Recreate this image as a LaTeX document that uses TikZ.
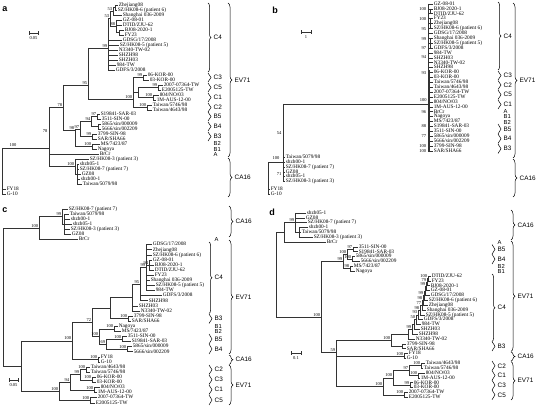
\documentclass[tikz,border=0pt]{standalone}
\usepackage{fontspec}
\setmainfont{Liberation Serif}
\newfontfamily\grpfam{Liberation Sans}
\usetikzlibrary{decorations.pathreplacing}

\newcommand{\lffont}{\fontsize{5.3}{5.3}\selectfont}
\newcommand{\btfont}{\fontsize{4.5}{4.5}\selectfont}
\newcommand{\grpfont}{\grpfam\fontsize{6.4}{6.4}\selectfont}
\newcommand{\subfont}{\grpfam\fontsize{5.8}{5.8}\selectfont}
\newcommand{\plfont}{\grpfam\bfseries\fontsize{9}{9}\selectfont}

\tikzset{
  br/.style={line width=0.6pt, draw=black!80},
  lf/.style={anchor=west, inner sep=0.5pt, font=\lffont, text height=3.6pt, text depth=1pt},
  bt/.style={anchor=south east, inner sep=0.3pt, xshift=-0.4pt, yshift=0.4pt, font=\btfont},
  btc/.style={anchor=center, inner sep=0pt, font=\btfont},
  grp/.style={anchor=west, inner sep=0pt, font=\grpfont},
  sgrp/.style={anchor=west, inner sep=0pt, font=\subfont},
  pl/.style={anchor=center, inner sep=0pt, font=\plfont},
  brc/.style={decorate, decoration={brace, amplitude=3pt}, line width=0.5pt},
  bigbrc/.style={decorate, decoration={brace, amplitude=4pt}, line width=0.5pt},
}

% leaf: parent x, label x, y, name
\newcommand{\leaf}[4]{\draw[br] (#1,#3) -- (#2,#3) node[lf] {#4};}
% clade: x, top y, bottom y
\newcommand{\clade}[3]{\draw[br] (#1,#2) -- (#1,#3);}
% branch: from x, to x, y
\newcommand{\hbr}[3]{\draw[br] (#1,#3) -- (#2,#3);}
% bootstrap at node
\newcommand{\boot}[3]{\node[bt] at (#1,#2) {#3};}
% group braces
\newcommand{\grpb}[4]{\draw[brc] (#1,#2) -- (#1,#3);
  \node[grp] at ({#1+5.5},{(#2+#3)/2}) {#4};}
\newcommand{\grpB}[4]{\draw[bigbrc] (#1,#2) -- (#1,#3);
  \node[grp] at ({#1+6.5},{(#2+#3)/2}) {#4};}
% scale bar
\newcommand{\scalebar}[4]{\draw[br] (#1,#3) -- (#2,#3);
  \draw[br] (#1,{#3-1.7}) -- (#1,{#3+1.7});
  \draw[br] (#2,{#3-1.7}) -- (#2,{#3+1.7});
  \node[btc] at ({(#1+#2)/2},{#3+5.5}) {#4};}

\begin{document}
\begin{tikzpicture}[x=1pt, y=-1pt]
\useasboundingbox (0,0) rectangle (536,406);

% ================= panel a =================
\node[pl] at (5,9) {a};
\scalebar{29}{38}{33}{0.05}
% C4
\clade{115}{5}{10}
\leaf{115}{118}{5}{Zhejiang08}
\leaf{115}{117}{10}{SZ/HK08-6 (patient 6)}
\clade{113}{7.5}{15} \hbr{113}{115}{7.5}
\leaf{113}{122}{15}{Shanghai 036-2009}
\clade{119}{30}{35}
\leaf{119}{124}{30}{BJ08-2020-1}
\leaf{119}{124}{35}{FY23}
\clade{116}{20}{32.5} \hbr{116}{119}{32.5}
\leaf{116}{122}{20}{GZ-08-01}
\leaf{116}{122}{25}{DTID/ZJU-62}
\clade{110}{11.25}{26.25} \hbr{110}{113}{11.25} \hbr{110}{116}{26.25}
\boot{113}{11.25}{53} \boot{116}{26.25}{88}
\clade{108}{18.75}{70} \hbr{108}{110}{18.75} \boot{110}{18.75}{53}
\leaf{108}{122}{40}{GDSG/17/2008}
\leaf{108}{119}{45}{SZ/HK08-5 (patient 5)}
\leaf{108}{118}{50}{N3340-TW-02}
\leaf{108}{118}{55}{SHZH98}
\leaf{108}{118}{60}{SHZH03}
\leaf{108}{116}{65}{984-TW}
\leaf{108}{115}{70}{GDFS/3/2008}
% C1, C2, C3, C5
\clade{143}{75}{80}
\leaf{143}{147}{75}{06-KOR-00}
\leaf{143}{149}{80}{03-KOR-00}
\clade{158}{85}{90}
\leaf{158}{163}{85}{2007-07364-TW}
\leaf{158}{161}{90}{E2005125-TW}
\clade{153}{95}{100}
\leaf{153}{159}{95}{804/NO/03}
\leaf{153}{156}{100}{1M-AUS-12-00}
\clade{138}{87.5}{97.5} \hbr{138}{158}{87.5} \hbr{138}{153}{97.5}
\clade{147}{105}{110}
\leaf{147}{152}{105}{Taiwan/5746/98}
\leaf{147}{152}{110}{Taiwan/4643/98}
\clade{133}{77.5}{107.5} \hbr{133}{143}{77.5} \hbr{133}{138}{92.5} \hbr{133}{147}{107.5}
\boot{143}{77.5}{99} \boot{158}{87.5}{99} \boot{153}{97.5}{100} \boot{147}{107.5}{100}
\clade{88}{48}{99} \hbr{88}{108}{48} \hbr{88}{133}{99}
\boot{108}{48}{99} \boot{133}{99}{100}
% B
\clade{97}{114}{119}
\leaf{97}{100}{114}{S19841-SAR-03}
\leaf{97}{101}{119}{3511-SIN-00}
\clade{98}{124}{129}
\leaf{98}{101}{124}{5865/sin/000009}
\leaf{98}{101}{129}{5666/sin/002209}
\clade{91}{116.5}{126.5} \hbr{91}{97}{116.5} \hbr{91}{98}{126.5} \boot{97}{116.5}{97}
\clade{92}{134}{139}
\leaf{92}{97}{134}{3799-SIN-98}
\leaf{92}{97}{139}{SAR/SHA66}
\clade{80}{121.5}{136.5} \hbr{80}{91}{121.5} \hbr{80}{92}{136.5}
\boot{91}{121.5}{94} \boot{92}{136.5}{99}
\clade{92}{144}{149}
\leaf{92}{100}{144}{MS/7423/87}
\leaf{92}{97}{149}{Nagoya}
\clade{75}{129}{146.5} \hbr{75}{80}{129} \hbr{75}{92}{146.5}
\boot{80}{129}{97} \boot{92}{146.5}{100}
\clade{63}{85}{130} \hbr{63}{88}{85} \hbr{63}{75}{130}
\boot{88}{85}{95} \boot{75}{130}{98}
\clade{49}{107}{166.5} \hbr{49}{63}{107} \boot{63}{107}{78}
\node[btc] at (45,131) {78};
\leaf{49}{99}{154}{BrCr}
% CA16
\clade{77}{164}{184}
\leaf{77}{79}{164}{shzh05-1}
\leaf{77}{79}{169}{SZ/HK08-7 (patient 7)}
\leaf{77}{81}{174}{GZ08}
\leaf{77}{80}{179}{shzh00-1}
\leaf{77}{82}{184}{Taiwan/5079/98}
\clade{75}{159}{174} \hbr{75}{77}{174}
\leaf{75}{89}{159}{SZ/HK08-3 (patient 3)}
\hbr{49}{75}{166.5} \boot{75}{166.5}{100}
% root
\clade{2}{148}{194} \hbr{2}{49}{148}
\node[btc] at (13,145.5) {100};
\leaf{2}{6}{189}{FY18}
\leaf{2}{6}{194}{G-10}
% groups
\grpb{208}{3}{72}{C4}
\grpb{208}{73}{82}{C3}
\grpb{208}{83}{92}{C5}
\grpb{208}{93}{102}{C1}
\grpb{208}{103}{112}{C2}
\grpb{208}{112}{121}{B5}
\grpb{208}{122}{131}{B4}
\grpb{208}{132}{141}{B3}
\node[sgrp] at (213.5,143.6) {B2};
\node[sgrp] at (213.5,149.2) {B1};
\node[sgrp] at (213.5,154.8) {A};
\grpB{228}{3}{157}{EV71}
\grpB{228}{158}{197}{CA16}

% ================= panel b =================
\node[pl] at (275,10) {b};
\scalebar{301}{311}{32}{1}
% root and CA16
\clade{268}{162}{194}
\leaf{268}{270}{189}{FY18}
\leaf{268}{270}{194}{G-10}
\hbr{268}{283}{162} \node[btc] at (276,158.5) {100};
\clade{283}{104}{181}
\hbr{283}{428}{104} \node[bt, anchor=east] at (427.5,100.5) {100};
\leaf{283}{285}{157}{Taiwan/5079/98}
\leaf{283}{285}{162}{shzh00-1}
\leaf{283}{285}{167}{SZ/HK08-7 (patient 7)}
\leaf{283}{285}{172}{GZ08}
\leaf{283}{285}{176.5}{shzh05-1}
\leaf{283}{285}{181}{SZ/HK08-3 (patient 3)}
\draw[br, line width=1.3pt] (283.2,138) -- (283.2,181);
\node[btc] at (279,133) {54};
\node[btc] at (279,174.5) {71};
% EV71
\clade{428}{4}{151}
\draw[br, line width=1.4pt] (429.3,70) -- (429.3,151);
\leaf{428}{433}{4}{GZ-08-01}
\leaf{428}{433}{8.9}{BJ08-2020-1}
\leaf{428}{433}{13.8}{DTID/ZJU-62}
\leaf{428}{433}{18.7}{FY23}
\leaf{428}{433}{23.6}{Zhejiang08}
\leaf{428}{433}{28.5}{SZ/HK08-6 (patient 6)}
\leaf{428}{433}{33.4}{GDSG/17/2008}
\leaf{428}{433}{38.3}{Shanghai 036-2009}
\leaf{428}{433}{43.2}{SZ/HK08-5 (patient 5)}
\leaf{428}{433}{48.1}{GDFS/3/2008}
\leaf{428}{433}{53}{984-TW}
\leaf{428}{433}{57.9}{SHZH03}
\leaf{428}{433}{62.8}{N3340-TW-02}
\leaf{428}{433}{67.7}{SHZH98}
\leaf{428}{433}{72.6}{06-KOR-00}
\leaf{428}{433}{77.5}{03-KOR-00}
\leaf{428}{433}{82.4}{Taiwan/5746/98}
\leaf{428}{433}{87.3}{Taiwan/4643/98}
\leaf{428}{433}{92.2}{2007-07364-TW}
\leaf{428}{433}{97.1}{E2005125-TW}
\leaf{428}{433}{102}{804/NO/03}
\leaf{428}{433}{106.9}{1M-AUS-12-00}
\leaf{428}{433}{111.8}{BrCr}
\leaf{428}{433}{116.7}{Nagoya}
\leaf{428}{433}{121.6}{MS/7423/87}
\leaf{428}{433}{126.5}{S19841-SAR-03}
\leaf{428}{433}{131.4}{3511-SIN-00}
\leaf{428}{433}{136.3}{5865/sin/000009}
\leaf{428}{433}{141.2}{5666/sin/002209}
\leaf{428}{433}{146.1}{3799-SIN-98}
\leaf{428}{433}{151}{SAR/SHA66}
\clade{430.5}{8.9}{13.8}
\clade{430.5}{18.7}{28.5}
\clade{430.5}{38.3}{48.1}
\foreach \y/\v in {9/100, 19/100, 29/95, 39/99, 48/97, 57/94, 73/93, 112/96, 126/88, 136/77, 146/100, 151.5/100}
  \node[bt, anchor=east] at (427,\y) {\v};
% groups
\grpb{498}{2}{70}{C4}
\grpb{498}{71}{80}{C3}
\grpb{498}{80.5}{89.5}{C2}
\grpb{498}{90}{99.5}{C5}
\grpb{498}{100}{109}{C1}
\node[sgrp] at (503.5,111.2) {A};
\node[sgrp] at (503.5,116.7) {B1};
\node[sgrp] at (503.5,122.2) {B2};
\grpb{498}{124}{134}{B5}
\grpb{498}{134}{143.5}{B4}
\grpb{498}{144}{153.5}{B3}
\grpB{513}{3}{158}{EV71}
\grpB{513}{159}{197}{CA16}

% ================= panel c =================
\node[pl] at (5,210) {c};
\scalebar{9}{18}{380}{0.05}
% CA16 and A
\clade{64}{214.1}{234.5}
\leaf{62}{68}{209}{SZ/HK08-7 (patient 7)}
\leaf{64}{69}{214.1}{Taiwan/5079/98}
\leaf{64}{70}{219.2}{shzh00-1}
\leaf{64}{72}{224.3}{shzh05-1}
\leaf{64}{70}{229.4}{SZ/HK08-3 (patient 3)}
\leaf{64}{71}{234.5}{GZ08}
\clade{62}{209}{224.3} \hbr{62}{64}{224.3}
\clade{39}{216.6}{239.6} \hbr{39}{62}{216.6} \boot{62}{216.6}{99}
\leaf{39}{78}{239.6}{BrCr}
\hbr{3}{39}{228.1} \boot{39}{228.1}{100}
% C4
\clade{149}{260}{270.2} \boot{149}{265.1}{94}
\leaf{149}{152}{260}{GZ-08-01}
\leaf{149}{154}{265.1}{BJ08-2020-1}
\leaf{149}{154}{270.2}{DTID/ZJU-62}
\clade{146}{244.7}{290.6} \hbr{146}{149}{265.1}
\leaf{146}{152}{244.7}{GDSG/17/2008}
\leaf{146}{152}{249.8}{Zhejiang08}
\leaf{146}{152}{254.9}{SZ/HK08-6 (patient 6)}
\leaf{146}{154}{275.3}{FY23}
\leaf{146}{150}{280.4}{Shanghai 036-2009}
\leaf{146}{155}{285.5}{SZ/HK08-5 (patient 5)}
\leaf{146}{155}{290.6}{984-TW}
\clade{140}{267.65}{300.8} \hbr{140}{146}{267.65} \boot{146}{267.65}{99}
\leaf{140}{162}{295.7}{GDFS/3/2008}
\leaf{140}{148}{300.8}{SHZH98}
\clade{132}{284.2}{311} \hbr{132}{140}{284.2} \boot{140}{284.2}{95}
\leaf{132}{138}{305.9}{SHZH03}
\leaf{132}{140}{311}{N3340-TW-02}
% B
\clade{128}{316.1}{321.2}
\leaf{128}{133}{316.1}{3799-SIN-98}
\leaf{128}{131}{321.2}{SAR/SHA66}
\clade{110}{297.6}{318.65} \hbr{110}{132}{297.6} \hbr{110}{128}{318.65}
\boot{128}{318.65}{100}
\clade{114}{326.3}{331.4}
\leaf{114}{118}{326.3}{Nagoya}
\leaf{114}{121}{331.4}{MS/7423/87}
\clade{122}{336.5}{341.6}
\leaf{122}{127}{336.5}{3511-SIN-00}
\leaf{122}{131}{341.6}{S19841-SAR-03}
\clade{127}{346.7}{351.8}
\leaf{127}{132}{346.7}{5865/sin/000009}
\leaf{127}{133}{351.8}{5666/sin/002209}
\clade{106}{339.05}{349.25} \hbr{106}{122}{339.05} \hbr{106}{127}{349.25}
\boot{122}{339.05}{100} \boot{127}{349.25}{100}
\clade{99}{328.85}{344.15} \hbr{99}{114}{328.85} \hbr{99}{106}{344.15}
\boot{114}{328.85}{100} \boot{106}{344.15}{69}
\clade{92}{308.1}{336.5} \hbr{92}{110}{308.1} \hbr{92}{99}{336.5}
\boot{99}{336.5}{100}
\clade{98}{356.9}{362}
\leaf{98}{100}{356.9}{FY18}
\leaf{98}{100}{362}{G-10}
\clade{72}{322.3}{359.45} \hbr{72}{92}{322.3} \hbr{72}{98}{359.45}
\boot{92}{322.3}{72} \boot{98}{359.45}{100}
% C
\clade{86}{367.1}{372.2}
\leaf{86}{90}{367.1}{Taiwan/4643/98}
\leaf{86}{90}{372.2}{Taiwan/5746/98}
\clade{92}{377.3}{382.4}
\leaf{92}{96}{377.3}{06-KOR-00}
\leaf{92}{96}{382.4}{03-KOR-00}
\clade{80}{369.65}{379.85} \hbr{80}{86}{369.65} \hbr{80}{92}{379.85}
\boot{86}{369.65}{100} \boot{92}{379.85}{100}
\clade{94}{387.5}{392.6}
\leaf{94}{100}{387.5}{804/NO/03}
\leaf{94}{97}{392.6}{1M-AUS-12-00}
\clade{70}{374.75}{390.05} \hbr{70}{80}{374.75} \hbr{70}{94}{390.05}
\boot{80}{374.75}{99} \boot{94}{390.05}{100}
\clade{90}{397.7}{402.8}
\leaf{90}{97}{397.7}{2007-07364-TW}
\leaf{90}{95}{402.8}{E2005125-TW}
\clade{59}{382.4}{400.25} \hbr{59}{70}{382.4} \hbr{59}{90}{400.25}
\boot{70}{382.4}{94} \boot{90}{400.25}{100}
\clade{21}{340.9}{391.3} \hbr{21}{72}{340.9} \hbr{21}{59}{391.3}
\boot{72}{340.9}{100} \boot{59}{391.3}{100}
% root
\clade{3}{228.1}{366.1} \hbr{3}{21}{366.1}
% groups
\grpB{229}{206}{237}{CA16}
\node[sgrp] at (214.5,239.6) {A};
\grpb{209}{242}{313.5}{C4}
\grpb{209}{314}{323.5}{B3}
\node[sgrp] at (214.5,326.1) {B1};
\node[sgrp] at (214.5,331.6) {B2};
\grpb{209}{334}{344}{B5}
\grpb{209}{344}{354}{B4}
\grpB{229}{240}{354}{EV71}
\grpB{229}{355}{364.5}{CA16}
\grpb{209}{365}{374.5}{C2}
\grpb{209}{375}{384.5}{C3}
\grpb{209}{385}{394.5}{C1}
\grpb{209}{395}{405}{C5}
\grpB{229}{365}{405}{EV71}

% ================= panel d =================
\node[pl] at (272,212) {d};
\scalebar{291}{301}{353}{0.1}
% CA16 and A
\clade{299}{227.55}{237.25}
\leaf{299}{308}{227.55}{shzh00-1}
\leaf{299}{301}{232.4}{Taiwan/5079/98}
\leaf{299}{313}{237.25}{SZ/HK08-3 (patient 3)}
\clade{295}{213}{232.4} \hbr{295}{299}{232.4}
\leaf{295}{306}{213}{shzh05-1}
\leaf{295}{305}{217.85}{GZ08}
\leaf{295}{307}{222.7}{SZ/HK08-7 (patient 7)}
\clade{284}{222.7}{242.1} \hbr{284}{295}{222.7} \boot{295}{222.7}{99}
\leaf{284}{326}{242.1}{BrCr}
% B
\clade{353}{246.95}{251.8}
\leaf{353}{358}{246.95}{3511-SIN-00}
\leaf{353}{358}{251.8}{S19841-SAR-03}
\clade{352}{256.65}{261.5}
\leaf{352}{355}{256.65}{5865/sin/000009}
\leaf{352}{360}{261.5}{5666/sin/002209}
\clade{347}{249.4}{259.1} \hbr{347}{353}{249.4} \hbr{347}{352}{259.1}
\boot{353}{249.4}{97} \boot{352}{259.1}{100}
\clade{350}{266.35}{271.2}
\leaf{350}{353}{266.35}{MS/7423/87}
\leaf{350}{355}{271.2}{Nagoya}
\clade{343}{254.2}{268.8} \hbr{343}{347}{254.2} \hbr{343}{350}{268.8}
\boot{347}{254.2}{100} \boot{350}{268.8}{98}
% C4 ladder
\clade{428}{276.05}{280.9}
\leaf{428}{431}{276.05}{DTID/ZJU-62}
\leaf{428}{431}{280.9}{FY23}
\clade{427}{278.5}{285.75} \hbr{427}{428}{278.5}
\leaf{427}{430}{285.75}{BJ08-2020-1}
\clade{426}{282.1}{290.6} \hbr{426}{427}{282.1}
\leaf{426}{430}{290.6}{GZ-08-01}
\clade{425}{286.35}{295.45} \hbr{425}{426}{286.35}
\leaf{425}{430}{295.45}{GDSG/17/2008}
\clade{424}{290.9}{300.3} \hbr{424}{425}{290.9}
\leaf{424}{428}{300.3}{SZ/HK08-6 (patient 6)}
\clade{423}{295.6}{305.15} \hbr{423}{424}{295.6}
\leaf{423}{428}{305.15}{Zhejiang08}
\clade{422}{300.4}{310} \hbr{422}{423}{300.4}
\leaf{422}{426}{310}{Shanghai 036-2009}
\clade{420}{305.2}{314.85} \hbr{420}{422}{305.2}
\leaf{420}{425}{314.85}{SZ/HK08-5 (patient 5)}
\clade{418}{310}{319.7} \hbr{418}{420}{310}
\leaf{418}{423}{319.7}{GDFS/3/2008}
\clade{416}{314.85}{324.55} \hbr{416}{418}{314.85}
\leaf{416}{421}{324.55}{984-TW}
\clade{414}{319.7}{329.4} \hbr{414}{416}{319.7}
\leaf{414}{420}{329.4}{SHZH03}
\clade{412}{324.55}{334.25} \hbr{412}{414}{324.55}
\leaf{412}{418}{334.25}{SHZH98}
\clade{408}{329.4}{339.1} \hbr{408}{412}{329.4}
\leaf{408}{415}{339.1}{N3340-TW-02}
\boot{428}{278.5}{100} \boot{427}{282.1}{79} \boot{426}{286.35}{99}
\boot{424}{295.6}{99} \boot{423}{300.4}{98} \boot{422}{305.2}{77}
\boot{420}{310}{98} \boot{418}{314.85}{93} \boot{416}{319.7}{50}
\boot{412}{329.4}{99}
% B3
\clade{402}{343.95}{348.8}
\leaf{402}{406}{343.95}{3799-SIN-98}
\leaf{402}{406}{348.8}{SAR/SHA66}
\clade{391}{334.25}{346.4} \hbr{391}{408}{334.25} \hbr{391}{402}{346.4}
% FY18 / G-10
\clade{404}{353.65}{358.5}
\leaf{404}{408}{353.65}{FY18}
\leaf{404}{406}{358.5}{G-10}
% C
\clade{421}{363.35}{368.2}
\leaf{421}{425}{363.35}{Taiwan/4643/98}
\leaf{421}{423}{368.2}{Taiwan/5746/98}
\clade{418}{373.05}{377.9}
\leaf{418}{425}{373.05}{804/NO/03}
\leaf{418}{420}{377.9}{1M-AUS-12-00}
\clade{409}{365.8}{375.5} \hbr{409}{421}{365.8} \hbr{409}{418}{375.5}
\boot{421}{365.8}{100} \boot{418}{375.5}{100}
\clade{410}{382.75}{387.6}
\leaf{410}{413}{382.75}{06-KOR-00}
\leaf{410}{413}{387.6}{03-KOR-00}
\clade{393}{370.6}{385.2} \hbr{393}{409}{370.6} \hbr{393}{410}{385.2}
\boot{409}{370.6}{97} \boot{410}{385.2}{99}
\clade{404}{392.45}{397.3}
\leaf{404}{408}{392.45}{2007-07364-TW}
\leaf{404}{408}{397.3}{E2005125-TW}
\clade{383}{377.9}{394.9} \hbr{383}{393}{377.9} \hbr{383}{404}{394.9}
\boot{393}{377.9}{100} \boot{404}{394.9}{100}
% backbone
\clade{336}{340.3}{386.4}
\hbr{336}{391}{340.3} \hbr{336}{404}{356.1} \hbr{336}{383}{386.4}
\boot{391}{340.3}{100} \boot{404}{356.1}{100} \boot{383}{386.4}{100}
\clade{321}{261.5}{352} \hbr{321}{343}{261.5} \hbr{321}{336}{352}
\boot{343}{261.5}{99} \boot{336}{352}{59}
\clade{276}{232.4}{317} \hbr{276}{284}{232.4} \hbr{276}{321}{317}
\boot{321}{317}{100}
% groups
\grpB{511}{210}{240}{CA16}
\node[sgrp] at (497.5,242.1) {A};
\grpb{492}{244.5}{254.2}{B5}
\grpb{492}{254.2}{264}{B4}
\node[sgrp] at (497.5,266) {B2};
\node[sgrp] at (497.5,271.6) {B1};
\grpb{492}{274}{341.5}{C4}
\grpb{492}{341.5}{351}{B3}
\grpB{511}{241}{351.5}{EV71}
\grpB{511}{352}{361}{CA16}
\grpb{492}{361}{370.6}{C2}
\grpb{492}{370.6}{380.3}{C1}
\grpb{492}{380.3}{390}{C3}
\grpb{492}{390}{399.7}{C5}
\grpB{511}{361.5}{400}{EV71}
\end{tikzpicture}
\end{document}
